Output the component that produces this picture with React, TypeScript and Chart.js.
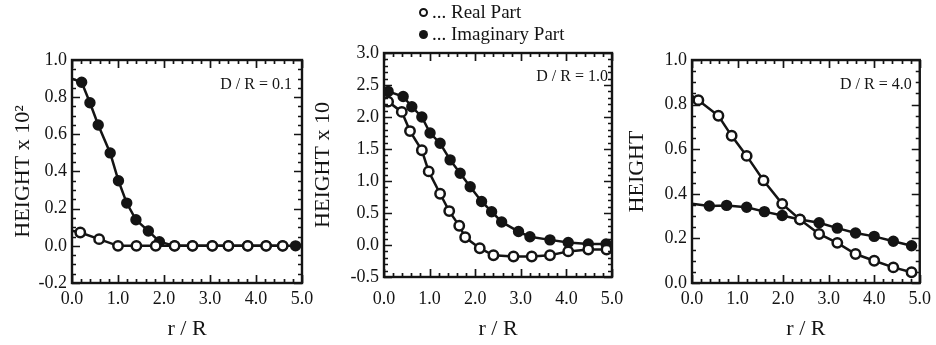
import React, { useEffect, useRef } from 'react';
import { Chart, registerables } from 'chart.js';

Chart.register(...registerables);

const INK = '#141414';
const SERIF = "'Liberation Serif', 'Times New Roman', serif";

// ---- Panel 1 : D / R = 0.1  (HEIGHT x 10^2) ----
const p1RealR = [0, 0.18, 0.59, 1.0, 1.4, 1.82, 2.23, 2.62, 3.05, 3.4, 3.82, 4.22, 4.58];
const p1RealH = [0.082, 0.072, 0.036, 0.0, 0, 0, 0, 0, 0, 0, 0, 0, 0];
const p1ImagR = [0, 0.21, 0.39, 0.57, 0.83, 1.01, 1.19, 1.39, 1.66, 1.9, 2.23, 2.62, 3.05, 3.4, 3.82, 4.22, 4.58, 4.86];
const p1ImagH = [0.9, 0.88, 0.77, 0.65, 0.5, 0.35, 0.23, 0.14, 0.08, 0.022, 0, 0, 0, 0, 0, 0, 0, 0];

// ---- Panel 2 : D / R = 1.0  (HEIGHT x 10) ----
const p2RealR = [0, 0.09, 0.39, 0.57, 0.83, 0.98, 1.23, 1.43, 1.65, 1.78, 2.1, 2.4, 2.84, 3.24, 3.64, 4.04, 4.48, 4.88];
const p2RealH = [2.28, 2.24, 2.08, 1.78, 1.48, 1.15, 0.8, 0.53, 0.3, 0.12, -0.05, -0.16, -0.18, -0.18, -0.16, -0.1, -0.07, -0.07];
const p2ImagR = [0, 0.09, 0.42, 0.61, 0.83, 1.01, 1.23, 1.45, 1.67, 1.89, 2.14, 2.36, 2.58, 2.95, 3.2, 3.64, 4.04, 4.48, 4.87];
const p2ImagH = [2.42, 2.4, 2.32, 2.16, 2.0, 1.75, 1.59, 1.33, 1.12, 0.91, 0.68, 0.52, 0.36, 0.21, 0.13, 0.08, 0.04, 0.016, 0.016];

// ---- Panel 3 : D / R = 4.0  (HEIGHT) ----
const p3RealR = [0, 0.14, 0.58, 0.87, 1.2, 1.57, 1.98, 2.37, 2.79, 3.19, 3.59, 4.0, 4.42, 4.82];
const p3RealH = [0.84, 0.82, 0.75, 0.66, 0.57, 0.46, 0.355, 0.285, 0.22, 0.18, 0.13, 0.1, 0.07, 0.048];
const p3ImagR = [0, 0.38, 0.76, 1.2, 1.59, 1.98, 2.37, 2.79, 3.19, 3.59, 4.0, 4.42, 4.82];
const p3ImagH = [0.355, 0.345, 0.348, 0.34, 0.32, 0.303, 0.285, 0.27, 0.246, 0.224, 0.209, 0.187, 0.167];

const xTickLabels = ['0.0', '1.0', '2.0', '3.0', '4.0', '5.0'];
const seriesNames = ['Real Part', 'Imaginary Part'];

type PanelCfg = {
  left: number;
  width: number;
  padTop: number;
  padBottom: number;
  padRight: number;
  yWidth: number;
  xHeight: number;
  yTitlePad: number;
  xTickPad: number;
  yMin: number;
  yMax: number;
  yStep: number;
  yMinor: number;
  yTitle: string;
  note: string;
  noteDx: number;
  noteDy: number;
  realR: number[];
  realH: number[];
  imagR: number[];
  imagH: number[];
};

const panels: PanelCfg[] = [
  {
    left: 0, width: 330, padTop: 60, padBottom: 3, padRight: 28, yWidth: 72, xHeight: 59,
    yTitlePad: 10, xTickPad: 5, yMin: -0.2, yMax: 1.0, yStep: 0.2, yMinor: 0.05,
    yTitle: 'HEIGHT x 10²', note: 'D / R = 0.1', noteDx: 10, noteDy: 25,
    realR: p1RealR, realH: p1RealH, imagR: p1ImagR, imagH: p1ImagH,
  },
  {
    left: 305, width: 335, padTop: 53, padBottom: 3, padRight: 28, yWidth: 79, xHeight: 65,
    yTitlePad: 5, xTickPad: 11, yMin: -0.5, yMax: 3.0, yStep: 0.5, yMinor: 0.1,
    yTitle: 'HEIGHT x 10', note: 'D / R = 1.0', noteDx: 4, noteDy: 24,
    realR: p2RealR, realH: p2RealH, imagR: p2ImagR, imagH: p2ImagH,
  },
  {
    left: 620, width: 316, padTop: 60, padBottom: 3, padRight: 13, yWidth: 72, xHeight: 59,
    yTitlePad: 4, xTickPad: 5, yMin: 0, yMax: 1.0, yStep: 0.2, yMinor: 0.05,
    yTitle: 'HEIGHT', note: 'D / R = 4.0', noteDx: 8, noteDy: 25,
    realR: p3RealR, realH: p3RealH, imagR: p3ImagR, imagH: p3ImagH,
  },
];

function zip(r: number[], h: number[]) {
  return r.map((x, i) => ({ x, y: h[i] }));
}

function isMultiple(v: number, step: number) {
  const q = v / step;
  return Math.abs(q - Math.round(q)) < 1e-6;
}

function makeFramePlugin(cfg: PanelCfg) {
  return {
    id: 'frameTicks',
    afterDraw(chart: any) {
      const { ctx, chartArea: a, scales } = chart;
      const xs = scales.x;
      const ys = scales.y;
      ctx.save();
      ctx.strokeStyle = INK;
      ctx.lineWidth = 1.7;
      const xMin = xs.min, xMax = xs.max;
      const nx = Math.round((xMax - xMin) / 0.2);
      for (let k = 0; k <= nx; k++) {
        const v = xMin + k * 0.2;
        const len = isMultiple(v, 1) ? 8 : 4;
        const px = Math.round(xs.getPixelForValue(v)) + 0.5;
        ctx.beginPath();
        ctx.moveTo(px, a.bottom);
        ctx.lineTo(px, a.bottom - len);
        ctx.moveTo(px, a.top);
        ctx.lineTo(px, a.top + len);
        ctx.stroke();
      }
      const ny = Math.round((cfg.yMax - cfg.yMin) / cfg.yMinor);
      for (let k = 0; k <= ny; k++) {
        const v = cfg.yMin + k * cfg.yMinor;
        const len = isMultiple(v, cfg.yStep) ? 8 : 4;
        const py = Math.round(ys.getPixelForValue(v)) + 0.5;
        ctx.beginPath();
        ctx.moveTo(a.left, py);
        ctx.lineTo(a.left + len, py);
        ctx.moveTo(a.right, py);
        ctx.lineTo(a.right - len, py);
        ctx.stroke();
      }
      ctx.lineWidth = 2.4;
      ctx.strokeRect(a.left, a.top, a.right - a.left, a.bottom - a.top);
      ctx.fillStyle = INK;
      ctx.font = `16px ${SERIF}`;
      ctx.textAlign = 'right';
      ctx.textBaseline = 'middle';
      ctx.fillText(cfg.note, a.right - cfg.noteDx, a.top + cfg.noteDy);
      ctx.restore();
    },
  };
}

function PanelChart({ cfg }: { cfg: PanelCfg }) {
  const ref = useRef<HTMLCanvasElement>(null);
  useEffect(() => {
    const canvas = ref.current;
    if (!canvas) return;
    const tickFont = { family: SERIF, size: 18 };
    const titleFont = { family: SERIF, size: 22 };
    const radius = (c: any) => (c.raw && c.raw.x === 0 ? 0 : 4.7);
    const chart = new Chart(canvas, {
      type: 'line',
      data: {
        datasets: [
          {
            label: seriesNames[0],
            data: zip(cfg.realR, cfg.realH),
            borderColor: INK,
            backgroundColor: '#ffffff',
            borderWidth: 2.5,
            pointRadius: radius,
            pointBorderWidth: 2.5,
            pointBackgroundColor: '#ffffff',
            pointBorderColor: INK,
            tension: 0,
            clip: 0,
          },
          {
            label: seriesNames[1],
            data: zip(cfg.imagR, cfg.imagH),
            borderColor: INK,
            backgroundColor: INK,
            borderWidth: 2.5,
            pointRadius: radius,
            pointBorderWidth: 2,
            pointBackgroundColor: INK,
            pointBorderColor: INK,
            tension: 0,
            clip: 0,
          },
        ],
      } as any,
      options: {
        responsive: false,
        animation: false,
        devicePixelRatio: 1,
        events: [],
        layout: { padding: { top: cfg.padTop, bottom: cfg.padBottom, left: 0, right: cfg.padRight } },
        plugins: { legend: { display: false }, tooltip: { enabled: false }, title: { display: false } },
        scales: {
          x: {
            type: 'linear',
            min: 0,
            max: 5,
            grid: { display: false, drawTicks: false },
            border: { display: false },
            ticks: {
              stepSize: 1,
              autoSkip: false,
              maxRotation: 0,
              padding: cfg.xTickPad,
              color: INK,
              font: tickFont,
              callback: (v: any) => xTickLabels[Math.round(Number(v))] ?? '',
            },
            title: { display: true, text: 'r / R', color: INK, font: titleFont, padding: 0 },
            afterFit: (s: any) => {
              s.height = cfg.xHeight;
            },
          },
          y: {
            type: 'linear',
            min: cfg.yMin,
            max: cfg.yMax,
            grid: { display: false, drawTicks: false },
            border: { display: false },
            ticks: {
              stepSize: cfg.yStep,
              autoSkip: false,
              padding: 5,
              color: INK,
              font: tickFont,
              callback: (v: any) => {
                const n = Number(v);
                return (Math.abs(n) < 1e-9 ? 0 : n).toFixed(1);
              },
            },
            title: { display: true, text: cfg.yTitle, color: INK, font: titleFont, padding: { top: cfg.yTitlePad, bottom: 0 } },
            afterFit: (s: any) => {
              s.width = cfg.yWidth;
            },
          },
        },
      } as any,
      plugins: [makeFramePlugin(cfg)],
    });
    return () => chart.destroy();
  }, [cfg]);
  return (
    <div style={{ position: 'absolute', left: cfg.left, top: 0, width: cfg.width, height: 345 }}>
      <canvas ref={ref} width={cfg.width} height={345} style={{ display: 'block' }} />
    </div>
  );
}

function Legend() {
  const row = (filled: boolean, text: string, top: number) => (
    <div style={{ position: 'absolute', left: 419, top, height: 22, display: 'flex', alignItems: 'center', whiteSpace: 'nowrap' }}>
      <span
        style={{
          display: 'inline-block',
          width: filled ? 9 : 5,
          height: filled ? 9 : 5,
          borderRadius: '50%',
          background: filled ? INK : '#fff',
          border: filled ? 'none' : `2.5px solid ${INK}`,
          marginRight: 4,
        }}
      />
      <span style={{ fontFamily: SERIF, fontSize: 19, color: INK }}>{text}</span>
    </div>
  );
  return (
    <>
      {row(false, '... ' + seriesNames[0], 1)}
      {row(true, '... ' + seriesNames[1], 23)}
    </>
  );
}

export default function App() {
  return (
    <div style={{ position: 'absolute', left: 0, top: 0, width: 936, height: 345, background: '#fff', overflow: 'hidden' }}>
      {panels.map((p, i) => (
        <PanelChart key={i} cfg={p} />
      ))}
      <Legend />
    </div>
  );
}
